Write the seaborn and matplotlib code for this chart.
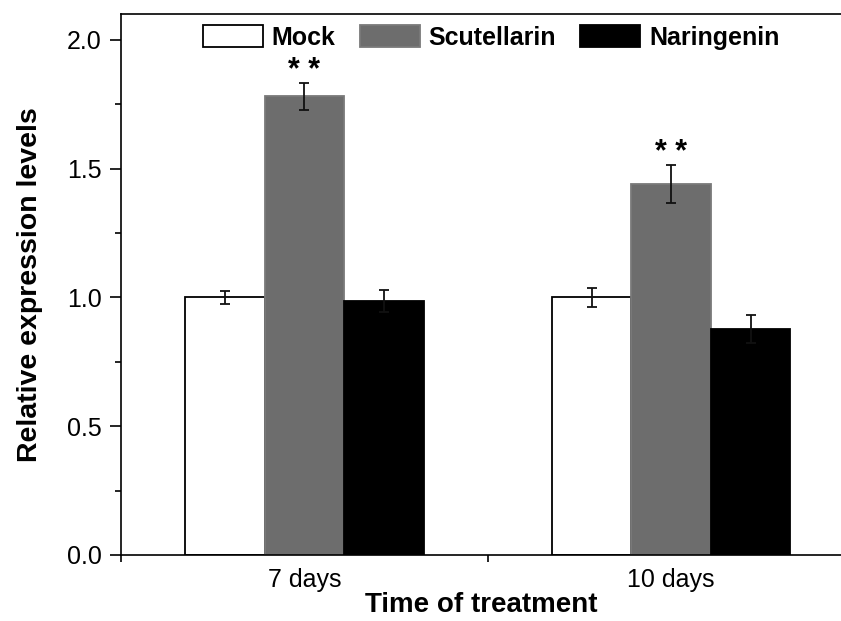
import numpy as np
import pandas as pd
import matplotlib
matplotlib.use("Agg")
import matplotlib.pyplot as plt
from matplotlib.ticker import MultipleLocator, FormatStrFormatter, FixedLocator
import seaborn as sns

# values
days = ["7 days", "10 days"]
treatments = ["Mock", "Scutellarin", "Naringenin"]
mock = [1.00, 1.00]
scutellarin = [1.78, 1.44]
naringenin = [0.985, 0.876]
mock_err = [0.025, 0.036]
scut_err = [0.052, 0.073]
nar_err = [0.043, 0.055]
stars = ["", "* *", ""]  # marks per treatment (only Scutellarin)

colors = ["#ffffff", "#6d6d6d", "#000000"]
edges = ["#000000", "#7a7a7a", "#000000"]

df = pd.DataFrame({
    "time": days * 3,
    "treatment": [t for t in treatments for _ in days],
    "value": mock + scutellarin + naringenin,
})
errs = [mock_err, scut_err, nar_err]

sns.set_style("ticks")
plt.rcParams["font.family"] = ["Liberation Sans", "DejaVu Sans"]
for k in ["text.color", "axes.labelcolor", "xtick.color", "ytick.color", "axes.edgecolor"]:
    plt.rcParams[k] = "black"

fig = plt.figure(figsize=(8.41, 6.21), dpi=100)
ax = fig.add_axes([121 / 841, 1 - 555 / 621, 1 - 121 / 841, (555 - 14) / 621])

sns.barplot(data=df, x="time", y="value", hue="treatment", hue_order=treatments,
            palette=colors, width=0.65, errorbar=None, legend=False, ax=ax,
            linewidth=1.3)

bars = list(ax.containers)
for i, cont in enumerate(bars):
    xs = []
    for p in cont.patches:
        p.set_edgecolor(edges[i])
        xs.append(p.get_x() + p.get_width() / 2)
    vals = [p.get_height() for p in cont.patches]
    ax.errorbar(xs, vals, yerr=errs[i], fmt="none", ecolor="#111111",
                elinewidth=1.3, capsize=3.8, capthick=1.3, zorder=5)
    if stars[i]:
        for x, v, e in zip(xs, vals, errs[i]):
            ax.annotate(stars[i], (x, v + e), xytext=(0, 3), textcoords="offset points",
                        ha="center", va="baseline", fontsize=22, fontweight="bold")

ax.set_ylim(0, 2.1)
ax.set_xlim(-0.5, 1.463)
ax.yaxis.set_major_locator(MultipleLocator(0.5))
ax.yaxis.set_minor_locator(MultipleLocator(0.25))
ax.yaxis.set_major_formatter(FormatStrFormatter("%.1f"))
ax.xaxis.set_minor_locator(FixedLocator([-0.5, 0.5]))
ax.tick_params(axis="y", which="major", length=8, width=1.2, labelsize=18, pad=6, direction="out")
ax.tick_params(axis="y", which="minor", length=4.5, width=1.2, direction="out")
ax.tick_params(axis="x", which="major", length=0, labelsize=18, pad=9)
ax.tick_params(axis="x", which="minor", length=5, width=1.2, direction="out")

for s in ["left", "bottom", "top"]:
    ax.spines[s].set_linewidth(1.2)
    ax.spines[s].set_color("black")
ax.spines["right"].set_visible(False)

ax.set_ylabel("Relative expression levels", fontsize=20.5, fontweight="bold", labelpad=17)
ax.set_xlabel("Time of treatment", fontsize=20, fontweight="bold", labelpad=0)

ax.legend(bars, treatments, ncol=3, frameon=False, loc="upper center",
          bbox_to_anchor=(0.514, 1.0), borderaxespad=0, borderpad=0.45,
          handlelength=2.4, handleheight=0.96, handletextpad=0.36, columnspacing=0.96,
          prop={"weight": "bold", "size": 18})

fig.savefig("out.png", dpi=100)
